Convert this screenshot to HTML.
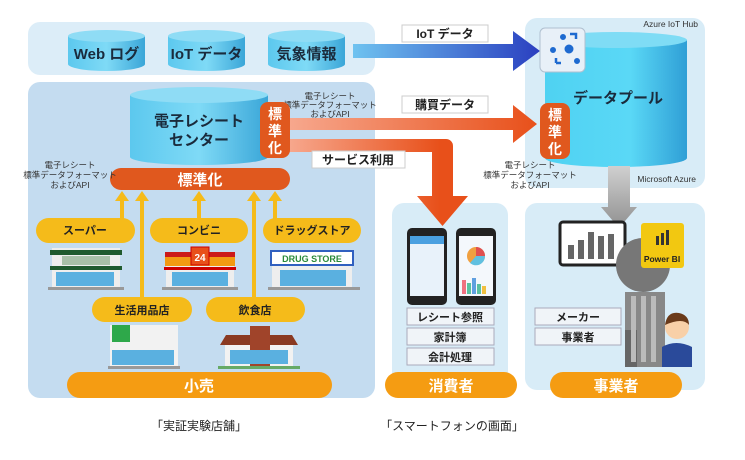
<!DOCTYPE html>
<html><head><meta charset="utf-8"><style>
body{margin:0;background:#fff;}
svg text{font-family:"Liberation Sans","Noto Sans CJK JP",sans-serif;}
</style></head><body>
<svg width="745" height="455" viewBox="0 0 745 455" xmlns="http://www.w3.org/2000/svg">
<defs>
<linearGradient id="cyl" x1="0" x2="1"><stop offset="0" stop-color="#5cc8ee"/><stop offset="0.5" stop-color="#7fdaf6"/><stop offset="1" stop-color="#3aa6d8"/></linearGradient>
<linearGradient id="cyl2" x1="0" x2="1"><stop offset="0" stop-color="#4fd2f2"/><stop offset="0.6" stop-color="#5ad8f6"/><stop offset="1" stop-color="#2f9fd6"/></linearGradient>
<linearGradient id="blueA" x1="0" x2="1"><stop offset="0" stop-color="#6fc3f0"/><stop offset="1" stop-color="#2a3fc0"/></linearGradient>
<linearGradient id="orA" x1="0" x2="1"><stop offset="0" stop-color="#f7a88e"/><stop offset="1" stop-color="#e8501a"/></linearGradient>
<linearGradient id="orB" gradientUnits="userSpaceOnUse" x1="288" y1="0" x2="440" y2="0"><stop offset="0" stop-color="#f7a88e"/><stop offset="1" stop-color="#e8501a"/></linearGradient>
<linearGradient id="grayA" x1="0" x2="0" y1="0" y2="1"><stop offset="0" stop-color="#d0d0d0"/><stop offset="1" stop-color="#909090"/></linearGradient>
</defs>
<rect x="28" y="22" width="347" height="53" rx="12" fill="#dcedf8"/>
<rect x="28" y="82" width="347" height="316" rx="12" fill="#c4dcf0"/>
<rect x="525" y="18" width="180" height="170" rx="12" fill="#d8ecf7"/>
<rect x="392" y="203" width="116" height="187" rx="12" fill="#d8ecf7"/>
<rect x="525" y="203" width="180" height="187" rx="12" fill="#d8ecf7"/>
<g>
<path d="M68 36 v28 a38.5 7 0 0 0 77 0 v-28 z" fill="url(#cyl)"/><ellipse cx="106.5" cy="36" rx="38.5" ry="6" fill="#8fdcf5"/>
<path d="M168 36 v28 a38.5 7 0 0 0 77 0 v-28 z" fill="url(#cyl)"/><ellipse cx="206.5" cy="36" rx="38.5" ry="6" fill="#8fdcf5"/>
<path d="M268 36 v28 a38.5 7 0 0 0 77 0 v-28 z" fill="url(#cyl)"/><ellipse cx="306.5" cy="36" rx="38.5" ry="6" fill="#8fdcf5"/>
<text x="106.5" y="59" font-size="15" font-weight="bold" text-anchor="middle" fill="#1a2b3c">Web ログ</text>
<text x="206.5" y="59" font-size="15" font-weight="bold" text-anchor="middle" fill="#1a2b3c">IoT データ</text>
<text x="306.5" y="59" font-size="15" font-weight="bold" text-anchor="middle" fill="#1a2b3c">気象情報</text>
</g>
<polygon points="353,44 513,44 513,31 540,51 513,71 513,58 353,58" fill="url(#blueA)"/>
<rect x="402" y="25" width="86" height="17" fill="#fff" stroke="#ccc"/>
<text x="445" y="38" font-size="12" font-weight="bold" text-anchor="middle" fill="#222">IoT データ</text>
<path d="M288 139 H446 a7 7 0 0 1 7 7 V196 H468 L442.5 226 L417 196 H432 V152 H288 Z" fill="url(#orB)"/>
<polygon points="288,118 513,118 513,105 537,124 513,143 513,130 288,130" fill="url(#orA)"/>
<rect x="402" y="96" width="86" height="17" fill="#fff" stroke="#ccc"/>
<text x="445" y="109" font-size="12" font-weight="bold" text-anchor="middle" fill="#222">購買データ</text>
<rect x="312" y="151" width="93" height="17" fill="#fff" stroke="#ccc"/>
<text x="358" y="164" font-size="12" font-weight="bold" text-anchor="middle" fill="#222">サービス利用</text>
<text x="330" y="99" font-size="8.5" text-anchor="middle" fill="#333">電子レシート</text>
<text x="330" y="108" font-size="8.5" text-anchor="middle" fill="#333">標準データフォーマット</text>
<text x="330" y="117" font-size="8.5" text-anchor="middle" fill="#333">およびAPI</text>
<path d="M130 95 v62 a69 8 0 0 0 138 0 v-62 z" fill="url(#cyl)"/>
<ellipse cx="199" cy="95" rx="69" ry="8" fill="#8fdcf5"/>
<text x="199" y="126" font-size="15" font-weight="bold" text-anchor="middle" fill="#1a2b3c">電子レシート</text>
<text x="199" y="145" font-size="15" font-weight="bold" text-anchor="middle" fill="#1a2b3c">センター</text>
<rect x="260" y="102" width="30" height="56" rx="8" fill="#e0581e"/>
<text x="275" y="119" font-size="14" font-weight="bold" text-anchor="middle" fill="#fff">標</text>
<text x="275" y="136" font-size="14" font-weight="bold" text-anchor="middle" fill="#fff">準</text>
<text x="275" y="153" font-size="14" font-weight="bold" text-anchor="middle" fill="#fff">化</text>
<rect x="110" y="168" width="180" height="22" rx="11" fill="#e0581e"/>
<text x="200" y="185" font-size="15" font-weight="bold" text-anchor="middle" fill="#fff">標準化</text>
<text x="70" y="168" font-size="8.5" text-anchor="middle" fill="#333">電子レシート</text>
<text x="70" y="178" font-size="8.5" text-anchor="middle" fill="#333">標準データフォーマット</text>
<text x="70" y="188" font-size="8.5" text-anchor="middle" fill="#333">およびAPI</text>
<g fill="#f5bb1a">
<rect x="120" y="200" width="4" height="20"/><polygon points="115,201 122,191 129,201"/>
<rect x="140" y="200" width="4" height="98"/><polygon points="135,201 142,191 149,201"/>
<rect x="197" y="200" width="4" height="20"/><polygon points="192,201 199,191 206,201"/>
<rect x="252" y="200" width="4" height="98"/><polygon points="247,201 254,191 261,201"/>
<rect x="273" y="200" width="4" height="20"/><polygon points="268,201 275,191 282,201"/>
</g>
<g fill="#f5bb1a">
<rect x="36" y="218" width="99" height="25" rx="12.5"/>
<rect x="150" y="218" width="98" height="25" rx="12.5"/>
<rect x="263" y="218" width="98" height="25" rx="12.5"/>
<rect x="92" y="297" width="100" height="25" rx="12.5"/>
<rect x="206" y="297" width="99" height="25" rx="12.5"/>
</g>
<g font-size="11" font-weight="bold" text-anchor="middle" fill="#222">
<text x="85" y="234">スーパー</text><text x="199" y="234">コンビニ</text><text x="312" y="234">ドラッグストア</text>
<text x="142" y="314">生活用品店</text><text x="255" y="314">飲食店</text>
</g>
<g>
<rect x="52" y="248" width="68" height="40" fill="#eee"/><rect x="50" y="250" width="72" height="5" fill="#1f5a2e"/><rect x="50" y="266" width="72" height="4" fill="#1f5a2e"/><rect x="62" y="256" width="48" height="9" fill="#a8c0a8"/><rect x="56" y="272" width="58" height="14" fill="#5ab0e0"/><rect x="48" y="287" width="76" height="3" fill="#999"/>
<rect x="166" y="252" width="68" height="36" fill="#eee"/><rect x="165" y="252" width="70" height="14" fill="#f29a12"/><rect x="165" y="252" width="70" height="5" fill="#cc1a1a"/><rect x="191" y="247" width="18" height="18" fill="#e8501a" stroke="#c00"/><text x="200" y="261" font-size="10" font-weight="bold" text-anchor="middle" fill="#fff">24</text><rect x="164" y="267" width="72" height="3" fill="#c00"/><rect x="172" y="272" width="56" height="14" fill="#5ab0e0"/><rect x="162" y="287" width="76" height="3" fill="#999"/>
<rect x="272" y="252" width="80" height="36" fill="#eee"/><rect x="271" y="251" width="82" height="14" fill="#fff" stroke="#3060c0" stroke-width="2"/><text x="312" y="262" font-size="9" font-weight="bold" text-anchor="middle" fill="#2a8a3a">DRUG STORE</text><rect x="280" y="270" width="66" height="16" fill="#5ab0e0"/><rect x="268" y="287" width="92" height="3" fill="#999"/>
<rect x="110" y="325" width="68" height="42" fill="#f2f2f2"/><rect x="112" y="325" width="18" height="17" fill="#2ea84a"/><rect x="112" y="350" width="62" height="15" fill="#5ab0e0"/><rect x="108" y="366" width="72" height="3" fill="#999"/>
<rect x="225" y="338" width="68" height="29" fill="#f2f2f2"/><polygon points="220,345 298,345 292,335 226,335" fill="#8a3a22"/><rect x="250" y="326" width="20" height="40" fill="#a0442a"/><rect x="230" y="350" width="58" height="14" fill="#5ab0e0"/><rect x="218" y="366" width="82" height="3" fill="#6a6"/>
</g>
<rect x="67" y="372" width="265" height="26" rx="13" fill="#f59c12"/>
<text x="199" y="391" font-size="15" font-weight="bold" text-anchor="middle" fill="#fff">小売</text>
<text x="698" y="27" font-size="8.5" text-anchor="end" fill="#333">Azure IoT Hub</text>
<path d="M545 40 v118 a71 9 0 0 0 142 0 v-118 z" fill="url(#cyl2)"/>
<ellipse cx="616" cy="40" rx="71" ry="8" fill="#7fdcf5"/>
<text x="618" y="103" font-size="15" font-weight="bold" text-anchor="middle" fill="#1a2b3c">データプール</text>
<rect x="540" y="28" width="45" height="44" rx="5" fill="#e8f0f8" stroke="#b0c0d0"/>
<g fill="#1e6ad0" stroke="#1e6ad0"><circle cx="569" cy="49" r="4"/><circle cx="553" cy="50" r="2.5"/><circle cx="563" cy="37" r="2.5"/><circle cx="577" cy="61" r="2.5"/><path d="M556 63 v-5 M556 63 h5 M570 34 h6 v5" fill="none" stroke-width="2.5"/></g>
<rect x="540" y="103" width="30" height="56" rx="8" fill="#e0581e"/>
<text x="555" y="120" font-size="14" font-weight="bold" text-anchor="middle" fill="#fff">標</text>
<text x="555" y="137" font-size="14" font-weight="bold" text-anchor="middle" fill="#fff">準</text>
<text x="555" y="154" font-size="14" font-weight="bold" text-anchor="middle" fill="#fff">化</text>
<text x="530" y="168" font-size="8.5" text-anchor="middle" fill="#333">電子レシート</text>
<text x="530" y="178" font-size="8.5" text-anchor="middle" fill="#333">標準データフォーマット</text>
<text x="530" y="188" font-size="8.5" text-anchor="middle" fill="#333">およびAPI</text>
<text x="696" y="182" font-size="8.5" text-anchor="end" fill="#333">Microsoft Azure</text>
<path d="M608 166 H630 V207 H637 L619 228 L601 207 H608 Z" fill="url(#grayA)"/>
<rect x="407" y="228" width="40" height="77" rx="5" fill="#222"/><rect x="410" y="236" width="34" height="60" fill="#e8f2fa"/><rect x="410" y="236" width="34" height="8" fill="#4aa0e0"/>
<rect x="456" y="228" width="40" height="77" rx="5" fill="#222"/><rect x="459" y="236" width="34" height="60" fill="#f4f8fc"/><circle cx="476" cy="256" r="9" fill="#f0a040"/><path d="M476 256 L476 247 A9 9 0 0 1 485 256 Z" fill="#e05050"/><path d="M476 256 L485 256 A9 9 0 0 1 470 263 Z" fill="#60c0e0"/>
<g fill="#5bc0a0"><rect x="462" y="280" width="4" height="14" fill="#f07080"/><rect x="467" y="283" width="4" height="11"/><rect x="472" y="278" width="4" height="16" fill="#60a0e0"/><rect x="477" y="284" width="4" height="10"/><rect x="482" y="286" width="4" height="8" fill="#f0c040"/></g>
<g fill="#f0f4f8" stroke="#aab"><rect x="407" y="308" width="87" height="17"/><rect x="407" y="328" width="87" height="17"/><rect x="407" y="348" width="87" height="17"/><rect x="535" y="308" width="86" height="17"/><rect x="535" y="328" width="86" height="17"/></g>
<g font-size="11" font-weight="bold" text-anchor="middle" fill="#222">
<text x="450" y="321">レシート参照</text><text x="450" y="341">家計簿</text><text x="450" y="361">会計処理</text>
<text x="578" y="321">メーカー</text><text x="578" y="341">事業者</text></g>
<rect x="560" y="222" width="65" height="43" rx="3" fill="#fff" stroke="#222" stroke-width="3"/>
<g fill="#666"><rect x="568" y="245" width="6" height="14"/><rect x="578" y="240" width="6" height="19"/><rect x="588" y="232" width="6" height="27"/><rect x="598" y="236" width="6" height="23"/><rect x="608" y="234" width="6" height="25"/></g>
<circle cx="643" cy="265" r="27" fill="#777"/><path d="M643 265 L643 238 A27 27 0 0 1 670 265 Z" fill="#999"/>
<rect x="641" y="223" width="43" height="45" rx="3" fill="#f2c811"/>
<g fill="#333"><rect x="656" y="236" width="3" height="9"/><rect x="661" y="233" width="3" height="12"/><rect x="666" y="230" width="3" height="15"/></g>
<text x="662" y="262" font-size="8.5" font-weight="bold" text-anchor="middle" fill="#222">Power BI</text>
<rect x="625" y="292" width="40" height="75" fill="#888"/><rect x="625" y="330" width="12" height="37" fill="#666"/>
<g fill="#bbb"><rect x="631" y="296" width="5" height="66"/><rect x="641" y="296" width="5" height="66"/><rect x="651" y="296" width="5" height="66"/></g>
<path d="M662 367 v-20 q14 -8 30 0 v20 z" fill="#2a4a9a"/>
<circle cx="677" cy="327" r="12" fill="#f8d0a8"/><path d="M665 325 q2 -14 14 -12 q10 2 10 12 q-6 -8 -24 0z" fill="#6a3a1a"/>
<rect x="385" y="372" width="132" height="26" rx="13" fill="#f59c12"/>
<text x="451" y="391" font-size="15" font-weight="bold" text-anchor="middle" fill="#fff">消費者</text>
<rect x="550" y="372" width="132" height="26" rx="13" fill="#f59c12"/>
<text x="616" y="391" font-size="15" font-weight="bold" text-anchor="middle" fill="#fff">事業者</text>
<text x="199" y="430" font-size="12" text-anchor="middle" fill="#222">「実証実験店舗」</text>
<text x="452" y="430" font-size="12" text-anchor="middle" fill="#222">「スマートフォンの画面」</text>
</svg>
</body></html>
